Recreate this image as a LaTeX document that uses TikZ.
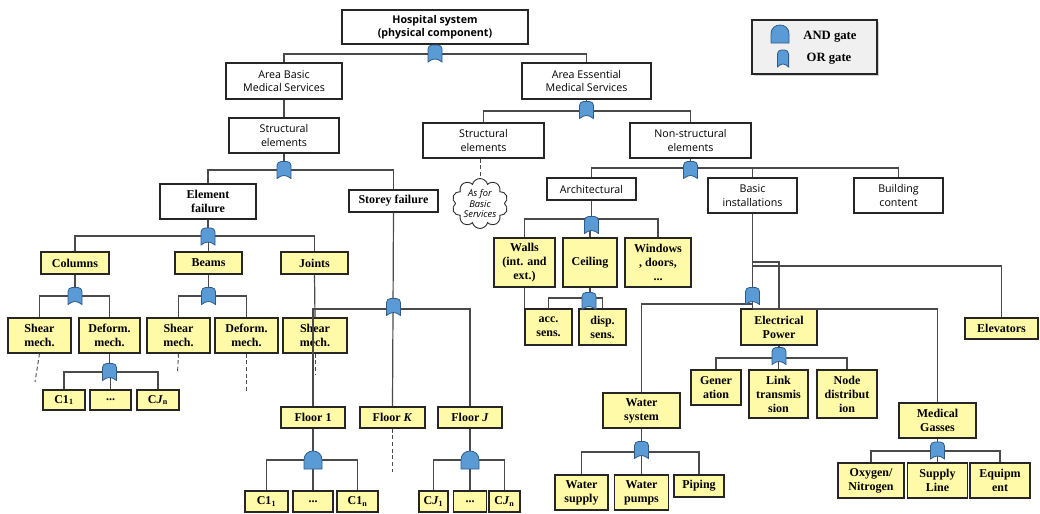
\documentclass[tikz,border=0pt]{standalone}
\usepackage{fontspec}
\newfontfamily\cf{Open Sans}
\newfontfamily\yfont{Liberation Serif}
\usetikzlibrary{shapes.symbols,shadows}
\definecolor{yel}{HTML}{FFFAA8}
\definecolor{gblue}{HTML}{5B9BD5}
\definecolor{gedge}{HTML}{2E5C8A}
\definecolor{lnc}{HTML}{4A4A4A}
\definecolor{legfill}{HTML}{F0F0F0}
\tikzset{
 sz/.style 2 args={minimum width=#1*0.75pt, minimum height=#2*0.75pt},
 wb/.style={draw=black!85, fill=white, line width=0.8pt, inner sep=0pt, align=center, font=\cf\fontsize{8}{10}\selectfont},
 wbs/.style={wb, font=\yfont\bfseries\fontsize{9}{10.5}\selectfont},
 yb/.style={draw=black!85, fill=yel, line width=0.8pt, inner sep=0pt, align=center, font=\yfont\bfseries\fontsize{9}{10.5}\selectfont},
 ln/.style={draw=lnc, line width=0.9pt},
 dsh/.style={draw=lnc, line width=0.7pt, densely dashed},
 gatestyle/.style={fill=gblue, draw=gedge, line width=0.6pt},
 orgate/.pic={\path[gatestyle, rounded corners=3pt] (-7,8.5) -- (-7,-8.5) -- (7,-8.5) [sharp corners] -- (7,8.5) .. controls (2,4.5) and (-2,4.5) .. (-7,8.5) -- cycle;},
 andgate/.pic={\path[gatestyle] (-9,9) -- (-9,0) .. controls (-9,-12) and (9,-12) .. (9,0) -- (9,9) -- cycle;},
 legtext/.style={inner sep=0pt, font=\yfont\bfseries\fontsize{9.5}{11}\selectfont},
}
\begin{document}
\begin{tikzpicture}[x=0.75pt, y=-0.75pt]
\useasboundingbox (0,0) rectangle (1040,514);

% legend
\node[draw=black!85, fill=legfill, line width=0.8pt, sz={125}{54}, drop shadow={opacity=0.35, shadow xshift=1.5pt, shadow yshift=-1.5pt}] (leg) at (814.5,47) {};
\pic at (780,34) {andgate};
\pic[xscale=0.8] at (783,58.5) {orgate};
\node[legtext] (legand) at (830,37) {AND gate};
\node[legtext] (legor) at (829,59) {OR gate};

% white boxes
\node[wb, sz={186}{34}, font=\cf\bfseries\fontsize{8}{10}\selectfont] (hs) at (435,27) {Hospital system\\(physical component)};
\node[wb, sz={116}{36}] (abm) at (284,81) {Area Basic\\Medical Services};
\node[wb, sz={129}{36}] (aem) at (586.5,81) {Area Essential\\Medical Services};
\node[wb, sz={110}{35}] (se1) at (284,135.5) {Structural\\elements};
\node[wb, sz={121}{35}] (se2) at (483.5,140.5) {Structural\\elements};
\node[wb, sz={121}{35}] (nse) at (690.5,140.5) {Non-structural\\elements};
\node[wb, sz={89}{22}] (arch) at (591.5,189) {Architectural};
\node[wb, sz={89}{35}] (bi) at (752.5,195.5) {Basic\\installations};
\node[wb, sz={89}{35}] (bc) at (898.5,195.5) {Building\\content};
\node[wbs, sz={96}{35}] (ef) at (208,201.5) {Element\\failure};
\node[wbs, sz={89}{22}] (sf) at (393.5,201) {Storey failure};
\node[cloud, cloud puffs=10, aspect=1.2, draw=black!80, line width=0.7pt, fill=white, inner sep=0pt, sz={56}{46}, align=center, font=\cf\itshape\fontsize{7}{8}\selectfont] (cloud) at (480,203.5) {As for\\Basic\\Services};

% yellow boxes, left
\node[yb, sz={68}{22}] (col) at (75,263) {Columns};
\node[yb, sz={67}{22}] (beam) at (208.5,263) {Beams};
\node[yb, sz={67}{22}] (joint) at (314.5,263) {Joints};
\node[yb, sz={63}{35}] (csh) at (39.5,335.5) {Shear\\mech.};
\node[yb, sz={61}{35}] (cde) at (109.5,335.5) {Deform.\\mech.};
\node[yb, sz={63}{35}] (bsh) at (178.5,335.5) {Shear\\mech.};
\node[yb, sz={63}{35}] (bde) at (246.5,335.5) {Deform.\\mech.};
\node[yb, sz={64}{35}] (jsh) at (315,335.5) {Shear\\mech.};
\node[yb, sz={42}{20}] (cc1) at (64,400) {C1\textsubscript{1}};
\node[yb, sz={41}{20}] (cdots) at (110.5,400) {...};
\node[yb, sz={42}{20}] (ccj) at (158,400) {C\textit{J}\textsubscript{n}};
\node[yb, sz={64}{21}] (f1) at (313,417.5) {Floor 1};
\node[yb, sz={65}{21}] (fk) at (392.5,417.5) {Floor \textit{K}};
\node[yb, sz={64}{21}] (fj) at (470,417.5) {Floor \textit{J}};
\node[yb, sz={43}{21}] (f1a) at (266.5,501.5) {C1\textsubscript{1}};
\node[yb, sz={40}{21}] (f1b) at (313,501.5) {...};
\node[yb, sz={41}{21}] (f1c) at (357.5,501.5) {C1\textsubscript{n}};
\node[yb, sz={29}{21}] (fja) at (433.5,501.5) {C\textit{J}\textsubscript{1}};
\node[yb, sz={33}{21}] (fjb) at (470,501.5) {...};
\node[yb, sz={31}{21}] (fjc) at (504.5,501.5) {C\textit{J}\textsubscript{n}};

% yellow boxes, right
\node[yb, sz={61}{49}] (walls) at (524.5,262.5) {Walls\\(int. and\\ext.)};
\node[yb, sz={54}{49}] (ceil) at (590,262.5) {Ceiling};
\node[yb, sz={66}{49}] (win) at (658,262.5) {Windows\\, doors,\\...};
\node[yb, sz={47}{36}] (acc) at (548.5,327) {acc.\\sens.};
\node[yb, sz={47}{36}] (disp) at (602.5,327) {disp.\\sens.};
\node[yb, sz={76}{36}] (ep) at (779,327) {Electrical\\Power};
\node[yb, sz={73}{21}] (elev) at (1001.5,328.5) {Elevators};
\node[yb, sz={50}{35}] (gen) at (716,387.5) {Gener\\ation};
\node[yb, sz={59}{48}] (link) at (778.5,394) {Link\\transmis\\sion};
\node[yb, sz={60}{48}] (nodd) at (847,394) {Node\\distribut\\ion};
\node[yb, sz={77}{35}] (ws) at (641.5,410.5) {Water\\system};
\node[yb, sz={77}{35}] (mg) at (937.5,420.5) {Medical\\Gasses};
\node[yb, sz={53}{35}] (wsup) at (581.5,492.5) {Water\\supply};
\node[yb, sz={54}{35}] (wpump) at (641.5,492.5) {Water\\pumps};
\node[yb, sz={50}{22}] (pip) at (699,486) {Piping};
\node[yb, sz={66}{35}] (oxy) at (871,480.5) {Oxygen/\\Nitrogen};
\node[yb, sz={60}{35}] (sup) at (937.5,480.5) {Supply\\Line};
\node[yb, sz={60}{35}] (equ) at (1000,480.5) {Equipm\\ent};

% junctions
\coordinate (j0) at (435,54);
\coordinate (j1) at (586.5,111);
\coordinate (j2) at (284,170);
\coordinate (j3) at (208,236);
\coordinate (j4) at (75,296);
\coordinate (j5) at (208.5,296);
\coordinate (j6) at (109.5,372);
\coordinate (j7) at (393.5,309);
\coordinate (j8) at (313,460);
\coordinate (j9) at (470,460);
\coordinate (j10) at (690.5,168);
\coordinate (j11) at (591.5,219);
\coordinate (j12) at (590,298);
\coordinate (j13) at (752.5,296);
\coordinate (b1) at (752.5,262);
\coordinate (b2) at (752.5,266);
\coordinate (j13a) at (752.5,304);
\coordinate (j13b) at (752.5,309);
\coordinate (j14) at (779,358);
\coordinate (j15) at (641.5,452);
\coordinate (j16) at (937.5,451);
\coordinate (d1) at (35,382);
\coordinate (d2) at (177.5,373);
\coordinate (d3) at (246.5,392);
\coordinate (d4) at (315,374);
\coordinate (d5) at (392.5,472);

% connectors
\draw[ln] (hs.south) -- (j0);
\draw[ln] (abm.north) |- (j0) -| (aem.north);
\draw[ln] (abm.south) -- (se1.north);
\draw[ln] (aem.south) -- (j1);
\draw[ln] (se2.north) |- (j1) -| (nse.north);
\draw[ln] (se1.south) -- (j2);
\draw[ln] (ef.north) |- (j2) -| (sf.north);
\draw[ln] (ef.south) -- (j3);
\draw[ln] (col.north) |- (j3) -| (joint.north);
\draw[ln] (beam.north) -- (beam.north |- j3);
\draw[ln] (col.south) -- (j4);
\draw[ln] (csh.north) |- (j4) -| (cde.north);
\draw[ln] (beam.south) -- (j5);
\draw[ln] (bsh.north) |- (j5) -| (bde.north);
\draw[ln] (joint.south) -- (jsh.north);
\draw[ln] (cde.south) -- (j6);
\draw[ln] (cc1.north) |- (j6) -| (ccj.north);
\draw[ln] (cdots.north) -- (cdots.north |- j6);
\draw[dsh] (csh.south) -- (d1);
\draw[dsh] (bsh.south) -- (d2);
\draw[dsh] (bde.south) -- (d3);
\draw[dsh] (jsh.south) -- (d4);
\draw[ln] (sf.south) -- (fk.north);
\draw[ln] (f1.north) |- (j7) -| (fj.north);
\draw[ln] (f1.south) -- (f1b.north);
\draw[ln] (f1a.north) |- (j8) -| (f1c.north);
\draw[dsh] (fk.south) -- (d5);
\draw[ln] (fj.south) -- (fjb.north);
\draw[ln] (fja.north) |- (j9) -| (fjc.north);
\draw[dsh] (se2.south -| cloud.north) -- (cloud.north);
\draw[ln] (nse.south) -- (j10);
\draw[ln] (arch.north) |- (j10) -| (bc.north);
\draw[ln] (bi.north) -- (bi.north |- j10);
\draw[ln] (arch.south) -- (j11);
\draw[ln] (walls.north) |- (j11) -| (win.north);
\draw[ln] (ceil.north) -- (ceil.north |- j11);
\draw[ln] (ceil.south) -- (j12);
\draw[ln] (acc.north) |- (j12) -| (disp.north);
\draw[ln] (walls.south) -- (walls.south |- acc.north);
\draw[ln] (bi.south) -- (j13b);
\draw[ln] (b1) -| (ep.north);
\draw[ln] (b2) -| (elev.north);
\draw[ln] (j13a) -| (ws.north);
\draw[ln] (j13b) -| (mg.north);
\draw[ln] (ep.south) -- (j14);
\draw[ln] (gen.north) |- (j14) -| (nodd.north);
\draw[ln] (link.north) -- (link.north |- j14);
\draw[ln] (ws.south) -- (j15);
\draw[ln] (wsup.north) |- (j15) -| (pip.north);
\draw[ln] (wpump.north) -- (wpump.north |- j15);
\draw[ln] (mg.south) -- (j16);
\draw[ln] (oxy.north) |- (j16) -| (equ.north);
\draw[ln] (sup.north) -- (sup.north |- j16);

% gates
\pic at (435,53.5) {orgate};
\pic at (586.5,110) {orgate};
\pic at (284,170) {orgate};
\pic at (208,236.5) {orgate};
\pic at (75,296) {orgate};
\pic at (208.5,296) {orgate};
\pic at (109.5,372) {orgate};
\pic at (393.5,307) {orgate};
\pic at (313,460) {andgate};
\pic at (470,460) {andgate};
\pic at (690.5,170) {orgate};
\pic at (591.5,225) {orgate};
\pic at (589,301) {orgate};
\pic at (752.5,296) {orgate};
\pic at (779,356) {orgate};
\pic at (641.5,450) {orgate};
\pic at (937.5,450.5) {orgate};
\end{tikzpicture}
\end{document}
